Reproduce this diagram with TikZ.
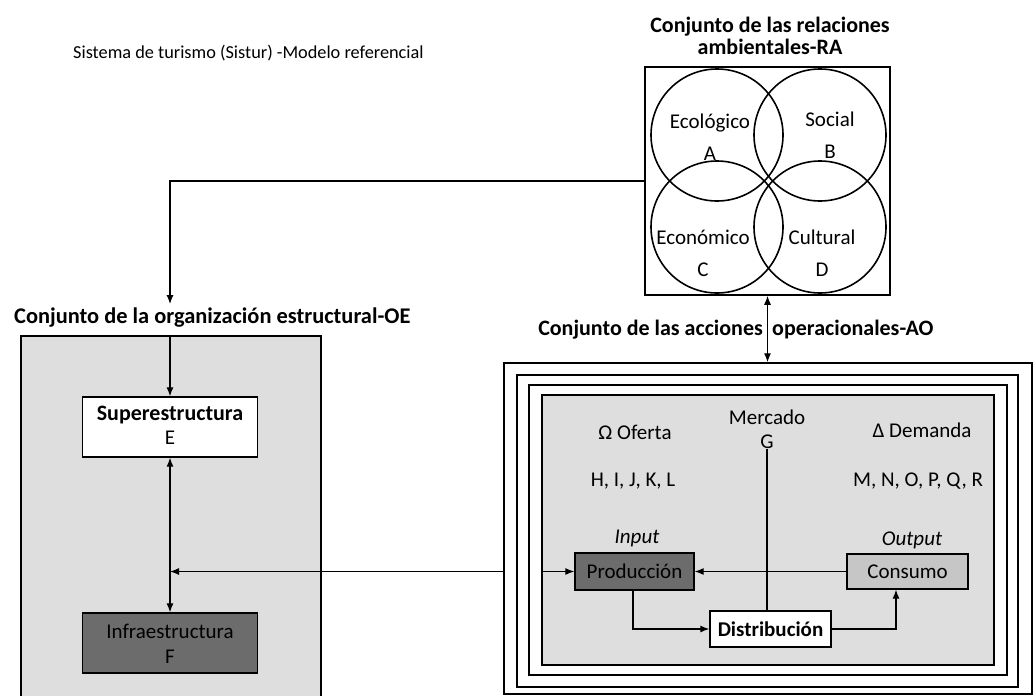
\documentclass[tikz,border=0pt]{standalone}
\usepackage{fontspec}
\setmainfont{Carlito}
\usetikzlibrary{arrows.meta}
\begin{document}
\begin{tikzpicture}[x=1pt,y=-1pt,
  txt/.style={inner sep=0pt, align=center, font=\fontsize{21}{24}\selectfont},
  ctxt/.style={inner sep=0pt, align=center, font=\fontsize{21}{32}\selectfont},
  btxt/.style={inner sep=0pt, align=center, font=\fontsize{22}{22}\selectfont\bfseries},
  ttl/.style={inner sep=0pt, font=\fontsize{18.3}{20}\selectfont},
  box/.style={draw, line width=1.3pt, inner sep=0pt, align=center, font=\fontsize{21}{24}\selectfont},
  circ/.style={draw, circle, line width=1.6pt, minimum size=132pt, inner sep=0pt},
  frame/.style={draw, line width=1.5pt, inner sep=0pt},
  arr/.style={-{Latex[length=9pt,width=7pt]}, line width=1.2pt},
  arrtwo/.style={{Latex[length=9pt,width=7pt]}-{Latex[length=9pt,width=7pt]}, line width=1.2pt},
  ln/.style={line width=1.2pt}
]
\useasboundingbox (0,0) rectangle (1033,696);
\fill[white] (0,0) rectangle (1033,696);
\definecolor{shadelight}{HTML}{DEDEDE}
\definecolor{shadedark}{HTML}{6C6C6C}
\definecolor{shademid}{HTML}{C6C6C6}

% title
\node[ttl, anchor=west] (title) at (73,53) {Sistema de turismo (Sistur) -Modelo referencial};

% RA
\node[btxt] (ratitle) at (770,36) {Conjunto de las relaciones\\ambientales-RA};
\node[frame, minimum width=245pt, minimum height=228pt] (ra) at (767.5,181) {};
\node[circ] (ca) at (717,135) {};
\node[circ] (cb) at (820,135) {};
\node[circ] (cc) at (717,227) {};
\node[circ] (cd) at (820,227) {};
\node[ctxt] (ta) at (710,137) {Ecológico\\A};
\node[ctxt] (tb) at (830,135) {Social\\B};
\node[ctxt] (tc) at (703,253) {Económico\\C};
\node[ctxt] (td) at (822,253) {Cultural\\D};

% OE
\node[btxt, anchor=west, font=\fontsize{22.4}{24}\selectfont\bfseries] (oetitle) at (14,318) {Conjunto de la organización estructural-OE};
\coordinate (oein) at (170,304);
\draw[arr] (ra.west) -| (oein);
\node[fill=shadelight, minimum width=300pt, minimum height=360pt, inner sep=0pt] (oe) at (171,516) {};
\draw[line width=1.5pt] (oe.south west) -- (oe.north west) -- (oe.north east) -- (oe.south east);
\node[box, fill=white, minimum width=175pt, minimum height=60pt] (sup) at (170,427) {};
\node[btxt] (suptxt) at (170,415) {Superestructura};
\node[txt] (supe) at (170,438) {E};
\node[box, fill=shadedark, minimum width=175pt, minimum height=60pt] (inf) at (170,643) {};
\node[txt] (inftxt) at (170,631) {Infraestructura};
\node[txt] (inff) at (170,657) {F};
\draw[arr] (sup.north |- oe.north) -- (sup.north);
\draw[arrtwo] (sup.south) -- (inf.north);

% AO
\node[btxt, anchor=east] (aotitlea) at (763,330) {Conjunto de las acciones};
\node[btxt, anchor=west] (aotitleb) at (772,330) {operacionales-AO};
\node[frame, fill=white, minimum width=528pt, minimum height=331pt] (ao1) at (768,528.5) {};
\node[frame, minimum width=501pt, minimum height=312pt] (ao2) at (767.5,531) {};
\node[frame, minimum width=478pt, minimum height=290pt] (ao3) at (768,530) {};
\node[frame, fill=shadelight, minimum width=452pt, minimum height=270pt] (aoin) at (768,530) {};
\draw[arrtwo] (ra.south) -- (ra.south |- ao1.north);

\node[txt] (oferta) at (635,432) {Ω Oferta};
\node[txt] (merc) at (767,429) {Mercado\\G};
\node[txt] (demanda) at (922,430) {Δ Demanda};
\node[txt] (hl) at (633,481) {H, I, J, K, L};
\node[txt] (mr) at (918,481) {M, N, O, P, Q, R};
\node[txt, font=\fontsize{21}{24}\selectfont\itshape] (input) at (637,538) {Input};
\node[txt, font=\fontsize{21}{24}\selectfont\itshape] (output) at (912,540) {Output};

\node[box, fill=shadedark, minimum width=119pt, minimum height=37pt] (prod) at (634.5,571.5) {Producción};
\node[box, fill=shademid, minimum width=121pt, minimum height=35pt] (cons) at (907.5,571.5) {Consumo};
\node[box, fill=white, minimum width=121pt, minimum height=36pt, font=\fontsize{21}{24}\selectfont\bfseries] (dist) at (770.5,629) {Distribución};

\draw[ln] (merc.south) -- (merc.south |- dist.north);
\draw[arr] (cons.west) -- (prod.east);
\draw[arr] (aoin.west |- prod) -- (prod.west);
\draw[arr] (ao1.west |- prod) -- (sup.south |- prod);
\draw[arr] ([xshift=-1.5pt]prod.south) |- (dist.west);
\draw[arr] (dist.east) -| ([xshift=-11.5pt]cons.south);
\end{tikzpicture}
\end{document}
